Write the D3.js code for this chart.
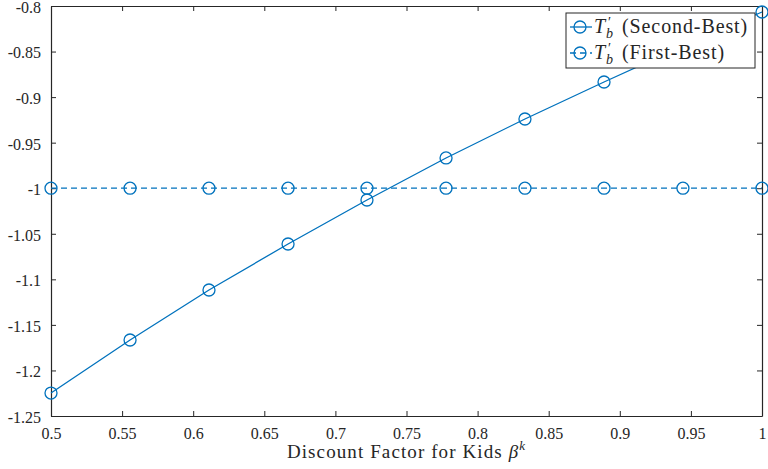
<html>
<head>
<style>
  body { margin: 0; background: #fff; }
</style>
</head>
<body>
<svg id="chart" width="768" height="469" font-family="Liberation Serif"></svg>
<script src="https://d3js.org/d3.v7.min.js"></script>
<script>
// beta^k grid (10 points)
let betaK = [0.5, 0.5556, 0.6111, 0.6667, 0.7222, 0.7778, 0.8333, 0.8889, 0.9444, 1.0]
let secondBest = [-1.2248, -1.1666, -1.1117, -1.0612, -1.0129, -0.9668, -0.9240, -0.8834, -0.8440, -0.8066]
let firstBest = [-1, -1, -1, -1, -1, -1, -1, -1, -1, -1]
let xTicks = [0.5, 0.55, 0.6, 0.65, 0.7, 0.75, 0.8, 0.85, 0.9, 0.95, 1]
let yTicks = [-0.8, -0.85, -0.9, -0.95, -1, -1.05, -1.1, -1.15, -1.2, -1.25]
let legendNames = ["(Second-Best)", "(First-Best)"]

let color = "#0072BD"
let ink = "#262626"
let font = "Liberation Serif"
let svg = d3.select("#chart")
let mLeft = 51, mRight = 762, mTop = 6, mBottom = 416

let x = d3.scaleLinear().domain([0.5, 1]).range([mLeft, mRight])
let y = d3.scaleLinear().domain([-1.25, -0.8]).range([mBottom, mTop])

let fmt = d => String(+d.toFixed(2))

function styleAxis(g) {
    g.attr("font-family", font).attr("font-size", 16)
    g.selectAll(".domain").attr("stroke", ink).attr("stroke-width", 1.2)
    g.selectAll(".tick line").attr("stroke", ink)
    g.selectAll(".tick text").attr("fill", ink)
}

// axes, box style with inward ticks
svg.append("g").attr("transform", "translate(0," + mBottom + ")")
    .call(d3.axisBottom(x).tickValues(xTicks).tickSizeInner(-5).tickSizeOuter(0).tickPadding(9).tickFormat(fmt))
    .call(styleAxis)
    .call(g => g.selectAll(".tick text").attr("dy", "0.85em"))
svg.append("g").attr("transform", "translate(0," + mTop + ")")
    .call(d3.axisTop(x).tickValues(xTicks).tickSizeInner(-5).tickSizeOuter(0).tickFormat(""))
    .call(styleAxis)
svg.append("g").attr("transform", "translate(" + mLeft + ",0)")
    .call(d3.axisLeft(y).tickValues(yTicks).tickSizeInner(-5).tickSizeOuter(0).tickPadding(10).tickFormat(fmt))
    .call(styleAxis)
    .call(g => g.selectAll(".tick text").attr("dy", "0.4em"))
svg.append("g").attr("transform", "translate(" + mRight + ",0)")
    .call(d3.axisRight(y).tickValues(yTicks).tickSizeInner(-5).tickSizeOuter(0).tickFormat(""))
    .call(styleAxis)

let sb = betaK.map((b, i) => ({x: b, y: secondBest[i]}))
let fb = betaK.map((b, i) => ({x: b, y: firstBest[i]}))
let line = d3.line().x(d => x(d.x)).y(d => y(d.y))

svg.append("path").datum(sb).attr("d", line)
    .attr("fill", "none").attr("stroke", color).attr("stroke-width", 1.3)
svg.selectAll(".m1").data(sb).join("circle")
    .attr("cx", d => x(d.x)).attr("cy", d => y(d.y)).attr("r", 6)
    .attr("fill", "none").attr("stroke", color).attr("stroke-width", 1.3)

svg.append("path").datum(fb).attr("d", line)
    .attr("fill", "none").attr("stroke", color).attr("stroke-width", 1.3).attr("stroke-dasharray", "6,4")
svg.selectAll(".m2").data(fb).join("circle")
    .attr("cx", d => x(d.x)).attr("cy", d => y(d.y)).attr("r", 6)
    .attr("fill", "none").attr("stroke", color).attr("stroke-width", 1.3)

// x label
let xl = svg.append("text").attr("x", (mLeft + mRight) / 2).attr("y", 458)
    .attr("text-anchor", "middle").attr("fill", ink).attr("font-size", 19)
    .attr("letter-spacing", 1.1)
xl.append("tspan").text("Discount Factor for Kids ")
xl.append("tspan").text("β").attr("font-style", "italic")
xl.append("tspan").text("k").attr("font-style", "italic").attr("font-size", 13).attr("dy", -8)

// legend
let lg = svg.append("g").attr("transform", "translate(566,13)")
lg.append("rect").attr("width", 189).attr("height", 55)
    .attr("fill", "#fff").attr("stroke", ink).attr("stroke-width", 1)
legendNames.forEach((name, i) => {
    let cy = 14 + i * 26
    lg.append("line").attr("x1", 4).attr("x2", 26).attr("y1", cy).attr("y2", cy)
        .attr("stroke", color).attr("stroke-width", 1.3)
        .attr("stroke-dasharray", i == 1 ? "6,4" : null)
    lg.append("circle").attr("cx", 14).attr("cy", cy).attr("r", 6)
        .attr("fill", "none").attr("stroke", color).attr("stroke-width", 1.3)
    let t = lg.append("text").attr("x", 28).attr("y", cy + 6).attr("fill", ink).attr("font-size", 20)
    t.append("tspan").attr("font-style", "italic").text("T")
    t.append("tspan").attr("x", 42).attr("dy", -6).attr("font-size", 14).text("′")
    t.append("tspan").attr("x", 40).attr("dy", 11).attr("font-size", 14).attr("font-style", "italic").text("b")
    t.append("tspan").attr("x", 56).attr("dy", -5).attr("letter-spacing", 0.9).text(name)
})
</script>
</body>
</html>
